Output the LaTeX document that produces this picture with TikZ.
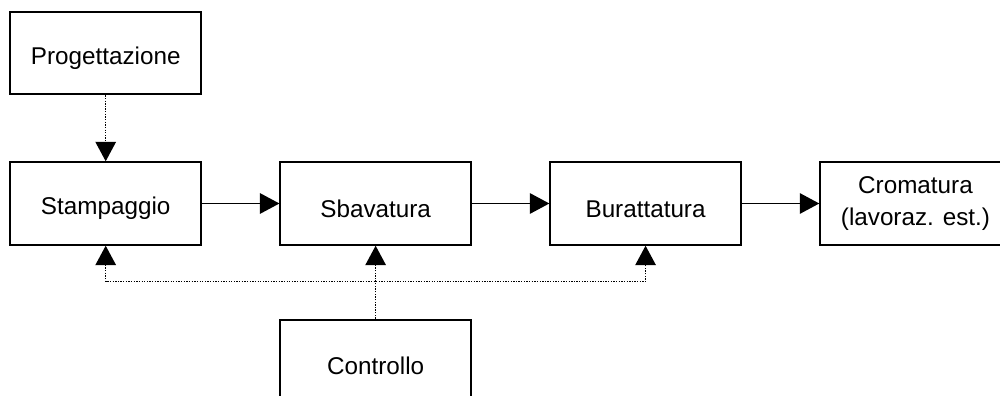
\documentclass[tikz,border=0pt]{standalone}
\usepackage{fontspec}
\setmainfont{Liberation Sans}
\usetikzlibrary{positioning,arrows.meta}

\begin{document}
\begin{tikzpicture}[
      node distance=15.5mm,
      phase/.style={draw, line width=1.1pt, align=center,
                    minimum height=16.5mm, minimum width=38.1mm, inner sep=2pt,
                    font=\fontsize{13.8}{18.2}\selectfont,
                    execute at begin node={\rule{0pt}{1.15em}}},
      arrow/.style={-{Triangle[length=3.9mm,width=4.1mm]}, line width=0.85pt},
      dots/.style={arrow, line width=0.9pt, dash pattern=on 0.75pt off 0.75pt},
      twoway/.style={dots, {Triangle[length=3.9mm,width=4.1mm]}-{Triangle[length=3.9mm,width=4.1mm]}}]
    \useasboundingbox (0,0) rectangle (20,-7.92);
    \node[phase] (stamp) at (2.114,-4.07) {Stampaggio};
    \node[phase, above=13.2mm of stamp] (prog) {Progettazione};
    \node[phase, right=of stamp] (sbav) {Sbavatura};
    \node[phase, right=of sbav] (burat) {Burattatura};
    \node[phase, right=of burat] (crom) {Cromatura\\(lavoraz. est.)};
    \node[phase, below=14.6mm of sbav] (contr) {Controllo};
    \coordinate (bus) at (0,-5.634);
    \draw[arrow] (stamp) -- (sbav);
    \draw[arrow] (sbav) -- (burat);
    \draw[arrow] (burat) -- (crom);
    \draw[dots] (prog) -- (stamp);
    \draw[dots] (contr) -- (sbav);
    \draw[twoway] (stamp.south) -- (stamp.south |- bus) -| (burat.south);
  \end{tikzpicture}
\end{document}
